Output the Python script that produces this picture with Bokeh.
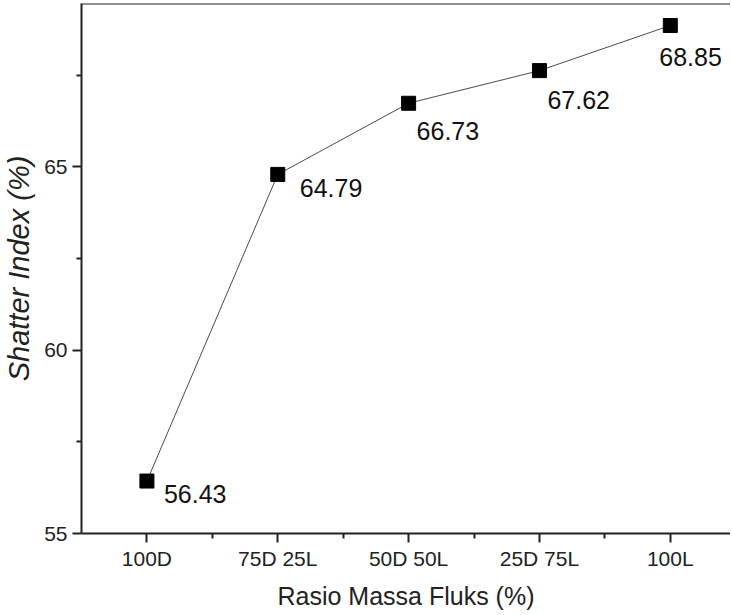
from bokeh.plotting import figure
from bokeh.models import FixedTicker, Span, ColumnDataSource, Range1d
from bokeh.core.properties import value
from bokeh.embed import file_html
from bokeh.resources import INLINE

# ---- data ----
categories = ["100D", "75D 25L", "50D 50L", "25D 75L", "100L"]
shatter_index = [56.43, 64.79, 66.73, 67.62, 68.85]
value_labels = ["56.43", "64.79", "66.73", "67.62", "68.85"]
y_ticks = [55, 60, 65]
y_minor_ticks = [57.5, 62.5, 67.5]

# label placement (screen px offsets from each marker)
label_dx = [17, 22, 8, 8, -11]
label_dy = [13, 14, 28, 29, 31]

FONT = "Liberation Sans"
x_pos = [i + 1 for i in range(len(categories))]

y_end = 69.45
p = figure(width=730, height=613, output_backend="svg", toolbar_location=None,
           x_range=Range1d(0.5, 5.46), y_range=Range1d(55, y_end),
           min_border_left=80, min_border_right=0, min_border_top=3, min_border_bottom=80)
p.outline_line_color = None
p.grid.visible = False
p.background_fill_color = "white"
p.border_fill_color = "white"

src = ColumnDataSource(dict(x=x_pos, y=shatter_index, lab=value_labels,
                            dx=label_dx, dy=label_dy))
p.line("x", "y", source=src, line_color="#4a4a4a", line_width=1)
p.scatter("x", "y", source=src, marker="square", size=14, fill_color="black", line_color="black")
p.text("x", "y", text="lab", source=src, x_offset="dx", y_offset="dy",
       text_font=value(FONT), text_font_size="25px", text_color="#111111",
       text_align="left", text_baseline="middle")

# axes
for ax in (p.xaxis[0], p.yaxis[0]):
    ax.axis_line_color = "#222222"
    ax.axis_line_width = 2
    ax.major_tick_line_color = "#222222"
    ax.major_tick_line_width = 2
    ax.minor_tick_line_color = "#222222"
    ax.minor_tick_line_width = 2
    ax.major_tick_in = 0
    ax.major_tick_out = 9
    ax.minor_tick_in = 0
    ax.minor_tick_out = 5
    ax.major_label_text_font = FONT
    ax.major_label_text_font_size = "21px"
    ax.major_label_text_color = "#222222"
    ax.axis_label_text_font = FONT
    ax.axis_label_text_color = "#222222"

p.xaxis.ticker = FixedTicker(ticks=x_pos, minor_ticks=[1.5, 2.5, 3.5, 4.5])
p.xaxis.major_label_overrides = {x: c for x, c in zip(x_pos, categories)}
p.xaxis.major_label_standoff = 4
p.xaxis.axis_label = "Rasio Massa Fluks (%)"
p.xaxis.axis_label_text_font_size = "25px"
p.xaxis.axis_label_text_font_style = "normal"
p.xaxis.axis_label_standoff = 9

p.yaxis.ticker = FixedTicker(ticks=y_ticks, minor_ticks=y_minor_ticks)
p.yaxis.major_label_standoff = 5
p.yaxis.major_label_orientation = "horizontal"
p.yaxis.axis_label = "Shatter Index (%)"
p.yaxis.axis_label_text_font_size = "29px"
p.yaxis.axis_label_text_font_style = "italic"
p.yaxis.axis_label_standoff = 6

# top frame line
p.add_layout(Span(location=y_end, dimension="width", line_color="#222222", line_width=2))

open("out.html", "w").write(file_html(p, INLINE))
